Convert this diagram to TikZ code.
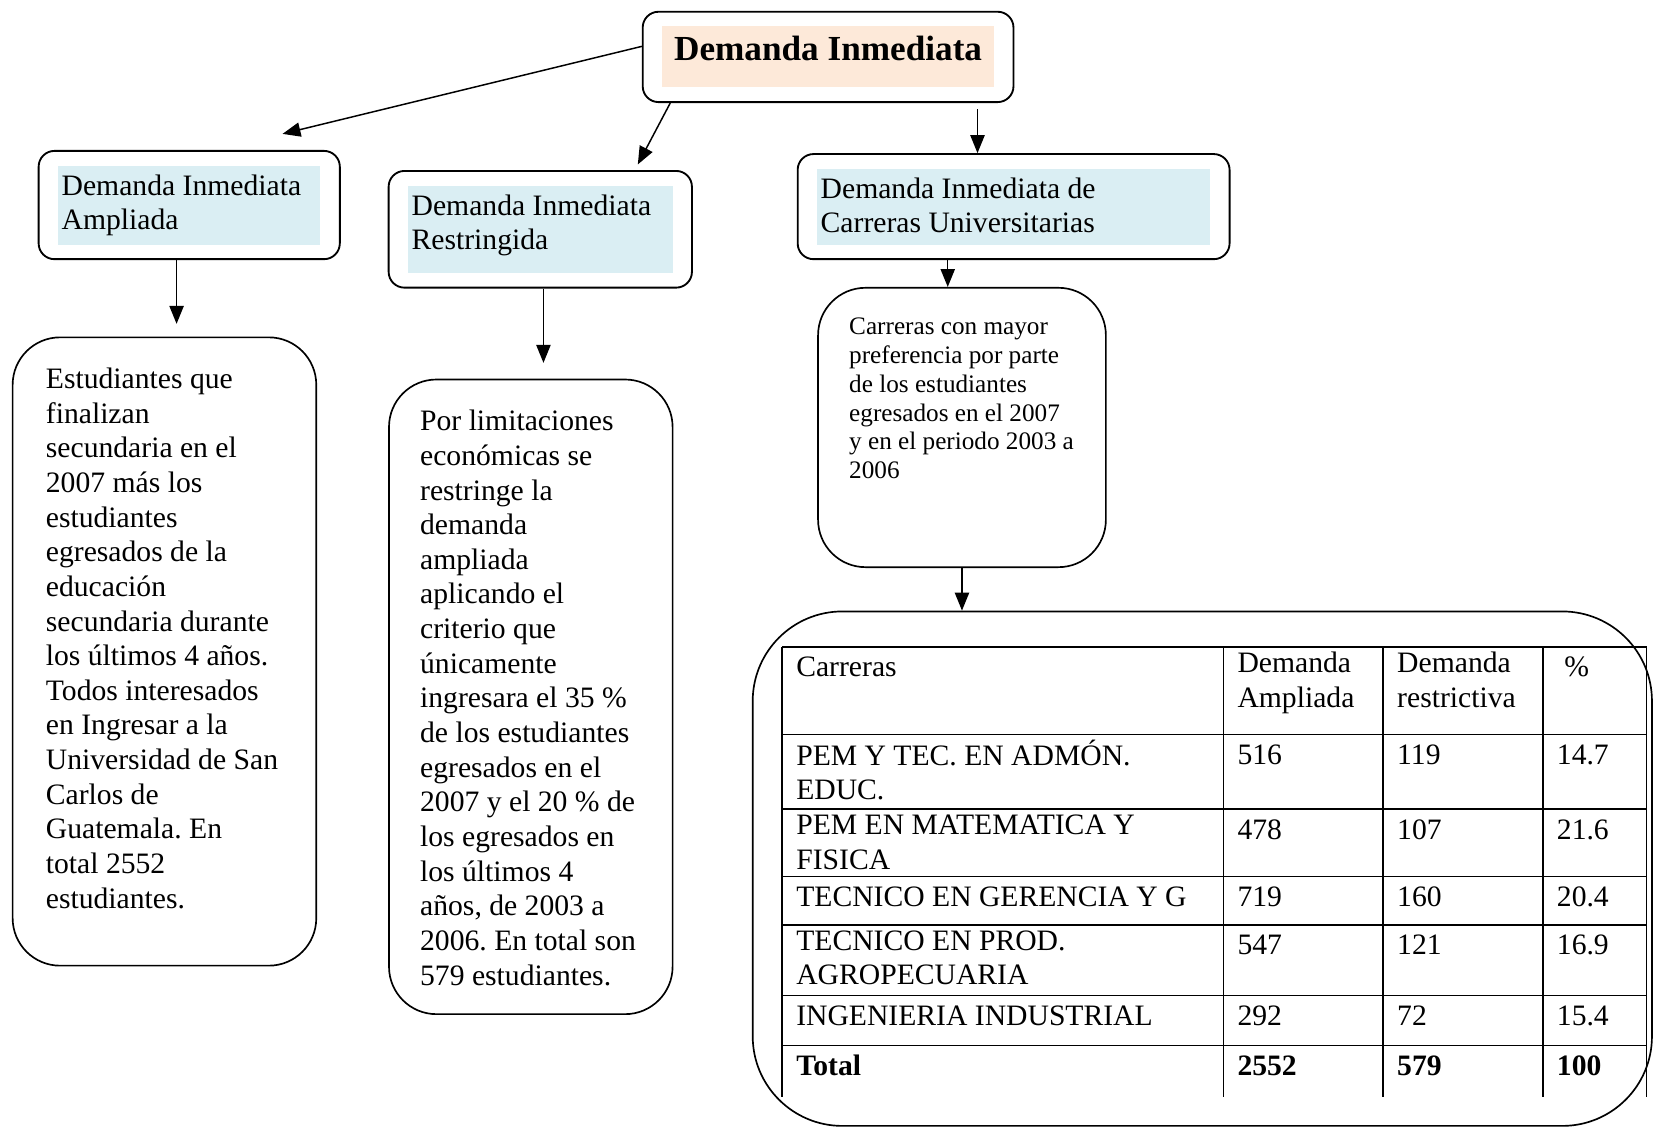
\documentclass[tikz,border=0pt]{standalone}
\usepackage{fontspec}
\setmainfont{Liberation Serif}
\usepackage{tikz}
\usepackage{xcolor}
\usetikzlibrary{arrows.meta,fit}

\definecolor{peach}{HTML}{FDE9D9}
\definecolor{paleblue}{HTML}{DAEEF3}
\newcommand{\bodyfont}{\fontsize{16}{18.7}\selectfont}
\newcommand{\titlefont}{\fontsize{19}{22.8}\selectfont\bfseries}
\newcommand{\smallbodyfont}{\fontsize{13.6}{15.6}\selectfont}
\newcommand{\hdrstrut}{\rule{0pt}{0.56cm}}
\frenchspacing

\begin{document}
\begin{tikzpicture}[
    every node/.style={font=\bodyfont},
    hdrfill/.style={inner xsep=0.07cm,inner ysep=0pt},
    hdrbox/.style={draw,line width=1pt,rounded corners=0.3cm,inner xsep=0.36cm,inner ysep=0.27cm},
    bodybox/.style={draw,line width=0.9pt,rounded corners=0.9cm},
    bodytext/.style={anchor=north west,inner sep=0pt,align=left,execute at begin node=\strut},
    cell/.style={anchor=north west,inner sep=0pt,align=left,execute at begin node=\strut},
    arr/.style={-{Triangle[length=0.34cm,width=0.27cm]},line width=0.8pt},
    tablerule/.style={line width=0.8pt}
]
\useasboundingbox (0,0) rectangle (31.36,-21.4);

% Top box
\node[hdrfill,fill=peach] (titlefill) at (15.71,-1.08)
    {\parbox[c][1.16cm][t]{6.16cm}{\centering\titlefont\rule{0pt}{0.64cm}Demanda Inmediata}};
\node[hdrbox,fit=(titlefill)] (title) {};

% Second row
\node[hdrfill,fill=paleblue] (Afill) at (3.59,-3.89)
    {\parbox[c][1.5cm][t]{4.84cm}{\hdrstrut Demanda Inmediata\\Ampliada}};
\node[hdrbox,fit=(Afill)] (A) {};

\node[hdrfill,fill=paleblue] (Bfill) at (10.25,-4.35)
    {\parbox[c][1.66cm][t]{4.88cm}{\hdrstrut Demanda Inmediata\\Restringida}};
\node[hdrbox,fit=(Bfill)] (B) {};

\node[hdrfill,fill=paleblue] (Cfill) at (19.23,-3.92)
    {\parbox[c][1.44cm][t]{7.32cm}{\hdrstrut Demanda Inmediata de\\Carreras Universitarias}};
\node[hdrbox,fit=(Cfill)] (C) {};

% Description boxes
\node[bodybox,minimum width=5.76cm,minimum height=11.92cm] (D) at (3.12,-12.36) {};
\node[bodytext] (Dtext) at ([xshift=0.64cm,yshift=-0.59cm]D.north west)
    {Estudiantes que\\finalizan\\secundaria en el\\2007 más los\\estudiantes\\egresados de la\\educación\\secundaria durante\\los últimos 4 años.\\Todos interesados\\en Ingresar a la\\Universidad de San\\Carlos de\\Guatemala. En\\total 2552\\estudiantes.};

\node[bodybox,minimum width=5.38cm,minimum height=12.04cm] (E) at (10.07,-13.22) {};
\node[bodytext] (Etext) at ([xshift=0.6cm,yshift=-0.59cm]E.north west)
    {Por limitaciones\\económicas se\\restringe la\\demanda\\ampliada\\aplicando el\\criterio que\\únicamente\\ingresara el 35 \%\\de los estudiantes\\egresados en el\\2007 y el 20 \% de\\los egresados en\\los últimos 4\\años, de 2003 a\\2006. En total son\\579 estudiantes.};

\node[bodybox,minimum width=5.46cm,minimum height=5.3cm] (F) at (18.25,-8.11) {};
\node[bodytext,font=\smallbodyfont] (Ftext) at ([xshift=0.6cm,yshift=-0.575cm]F.north west)
    {Carreras con mayor\\preferencia por parte\\de los estudiantes\\egresados en el 2007\\y en el periodo 2003 a\\2006};

\node[bodybox,rounded corners=1.7cm,minimum width=17.06cm,minimum height=9.76cm] (G) at (22.81,-16.48) {};

% Table inside G
\foreach \y in {-12.27,-13.93,-15.35,-16.63,-17.55,-18.89,-19.83}
    \draw[tablerule] (14.84,\y) -- (31.24,\y);
\foreach \x in {14.84,23.21,26.24,29.27,31.24}
    \draw[tablerule] (\x,-12.27) -- (\x,-20.81);

\foreach \r/\y/\car/\amp/\res/\pct in {
    0/-12.27/{Carreras}/{Demanda\\Ampliada}/{Demanda\\restrictiva}/{\ \%},
    1/-13.93/{PEM Y TEC. EN ADMÓN.\\EDUC.}/{516}/{119}/{14.7},
    2/-15.35/{PEM EN MATEMATICA Y\\FISICA}/{478}/{107}/{21.6},
    3/-16.63/{TECNICO EN GERENCIA Y G}/{719}/{160}/{20.4},
    4/-17.55/{TECNICO EN PROD.\\AGROPECUARIA}/{547}/{121}/{16.9},
    5/-18.89/{INGENIERIA INDUSTRIAL}/{292}/{72}/{15.4},
    6/-19.83/{\textbf{Total}}/{\textbf{2552}}/{\textbf{579}}/{\textbf{100}}
}{
    \node[cell] (car\r) at (15.10,\y-0.1) {\car};
    \node[cell] (amp\r) at (23.47,\y-0.1) {\amp};
    \node[cell] (res\r) at (26.50,\y-0.1) {\res};
    \node[cell] (pct\r) at (29.53,\y-0.1) {\pct};
}

% Arrows
\coordinate (tipA) at (5.36,-2.54);
\coordinate (tipB) at (12.10,-3.12);
\draw[arr] ([yshift=0.2cm]title.west) -- (tipA);
\draw[arr] ([xshift=0.54cm]title.south west) -- (tipB);
\draw[arr,shorten <=0.12cm] ([xshift=-0.7cm]title.south east) -- ([xshift=-0.7cm]title.south east |- C.north);
\draw[arr,shorten >=0.24cm] ([xshift=-0.24cm]A.south) -- ([xshift=-0.24cm]A.south |- D.north);
\draw[arr,shorten >=0.3cm] ([xshift=0.06cm]B.south) -- ([xshift=0.06cm]B.south |- E.north);
\draw[arr] ([xshift=-1.25cm]C.south) -- ([xshift=-1.25cm]C.south |- F.north);
\draw[arr] (F.south) -- (F.south |- G.north);

\end{tikzpicture}
\end{document}
